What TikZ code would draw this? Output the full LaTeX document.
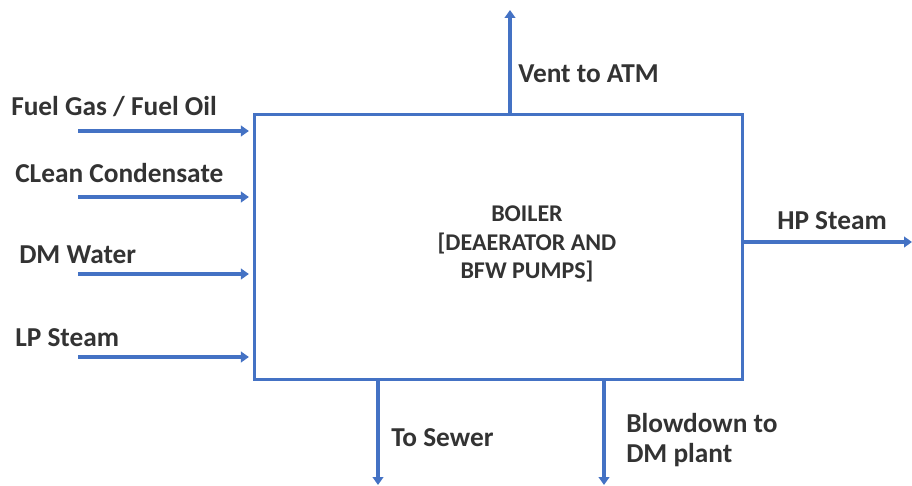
\documentclass[tikz,border=0pt]{standalone}
\usepackage{fontspec}
\setmainfont{Carlito}
\usetikzlibrary{arrows.meta}
\definecolor{flowblue}{HTML}{4472C4}

\begin{document}
\begin{tikzpicture}[x=0.75pt,y=-0.75pt,>={Triangle[length=6pt,width=8pt]},
  flow/.style={draw=flowblue,line width=2.4pt},
  stream/.style={flow,->},
  lbl/.style={anchor=west,inner sep=0pt,font=\fontsize{20.5}{22}\selectfont\bfseries,text=black!80}]
\useasboundingbox (0,0) rectangle (912,485);
% boiler block
\node[flow,minimum width=366pt,minimum height=199pt,inner sep=0pt] (boiler) at (498.5,247) {};
\node[lbl,anchor=center,align=center,font=\fontsize{18}{21.4}\selectfont\bfseries] (boilerlbl) at (527,244) {BOILER\\{[DEAERATOR AND}\\BFW PUMPS]};
% feeds on the left
\coordinate (fuel) at (78,131);
\coordinate (cond) at (78,197);
\coordinate (dmw) at (78,274);
\coordinate (lps) at (78,357);
\draw[stream,shorten >=3pt] (fuel) -- (fuel -| boiler.west);
\draw[stream,shorten >=3pt] (cond) -- (cond -| boiler.west);
\draw[stream,shorten >=3pt] (dmw) -- (dmw -| boiler.west);
\draw[stream,shorten >=3pt] (lps) -- (lps -| boiler.west);
\node[lbl] (fuellbl) at (11,107) {Fuel Gas / Fuel Oil};
\node[lbl] (condlbl) at (15,173) {CLean Condensate};
\node[lbl] (dmwlbl) at (19,255) {DM Water};
\node[lbl] (lpslbl) at (15,338) {LP Steam};
% products
\coordinate (vent) at (510,10);
\coordinate (hps) at (912,242);
\coordinate (sewer) at (378,485);
\coordinate (blow) at (604,485);
\draw[stream] (vent |- boiler.north) -- (vent);
\draw[stream] (hps -| boiler.east) -- (hps);
\draw[stream] (sewer |- boiler.south) -- (sewer);
\draw[stream] (blow |- boiler.south) -- (blow);
\node[lbl] (ventlbl) at (518,74) {Vent to ATM};
\node[lbl] (hpslbl) at (777,221) {HP Steam};
\node[lbl] (sewerlbl) at (391,438) {To Sewer};
\node[lbl,align=left] (blowlbl) at (626,440) {Blowdown to\\DM plant};
\end{tikzpicture}
\end{document}
